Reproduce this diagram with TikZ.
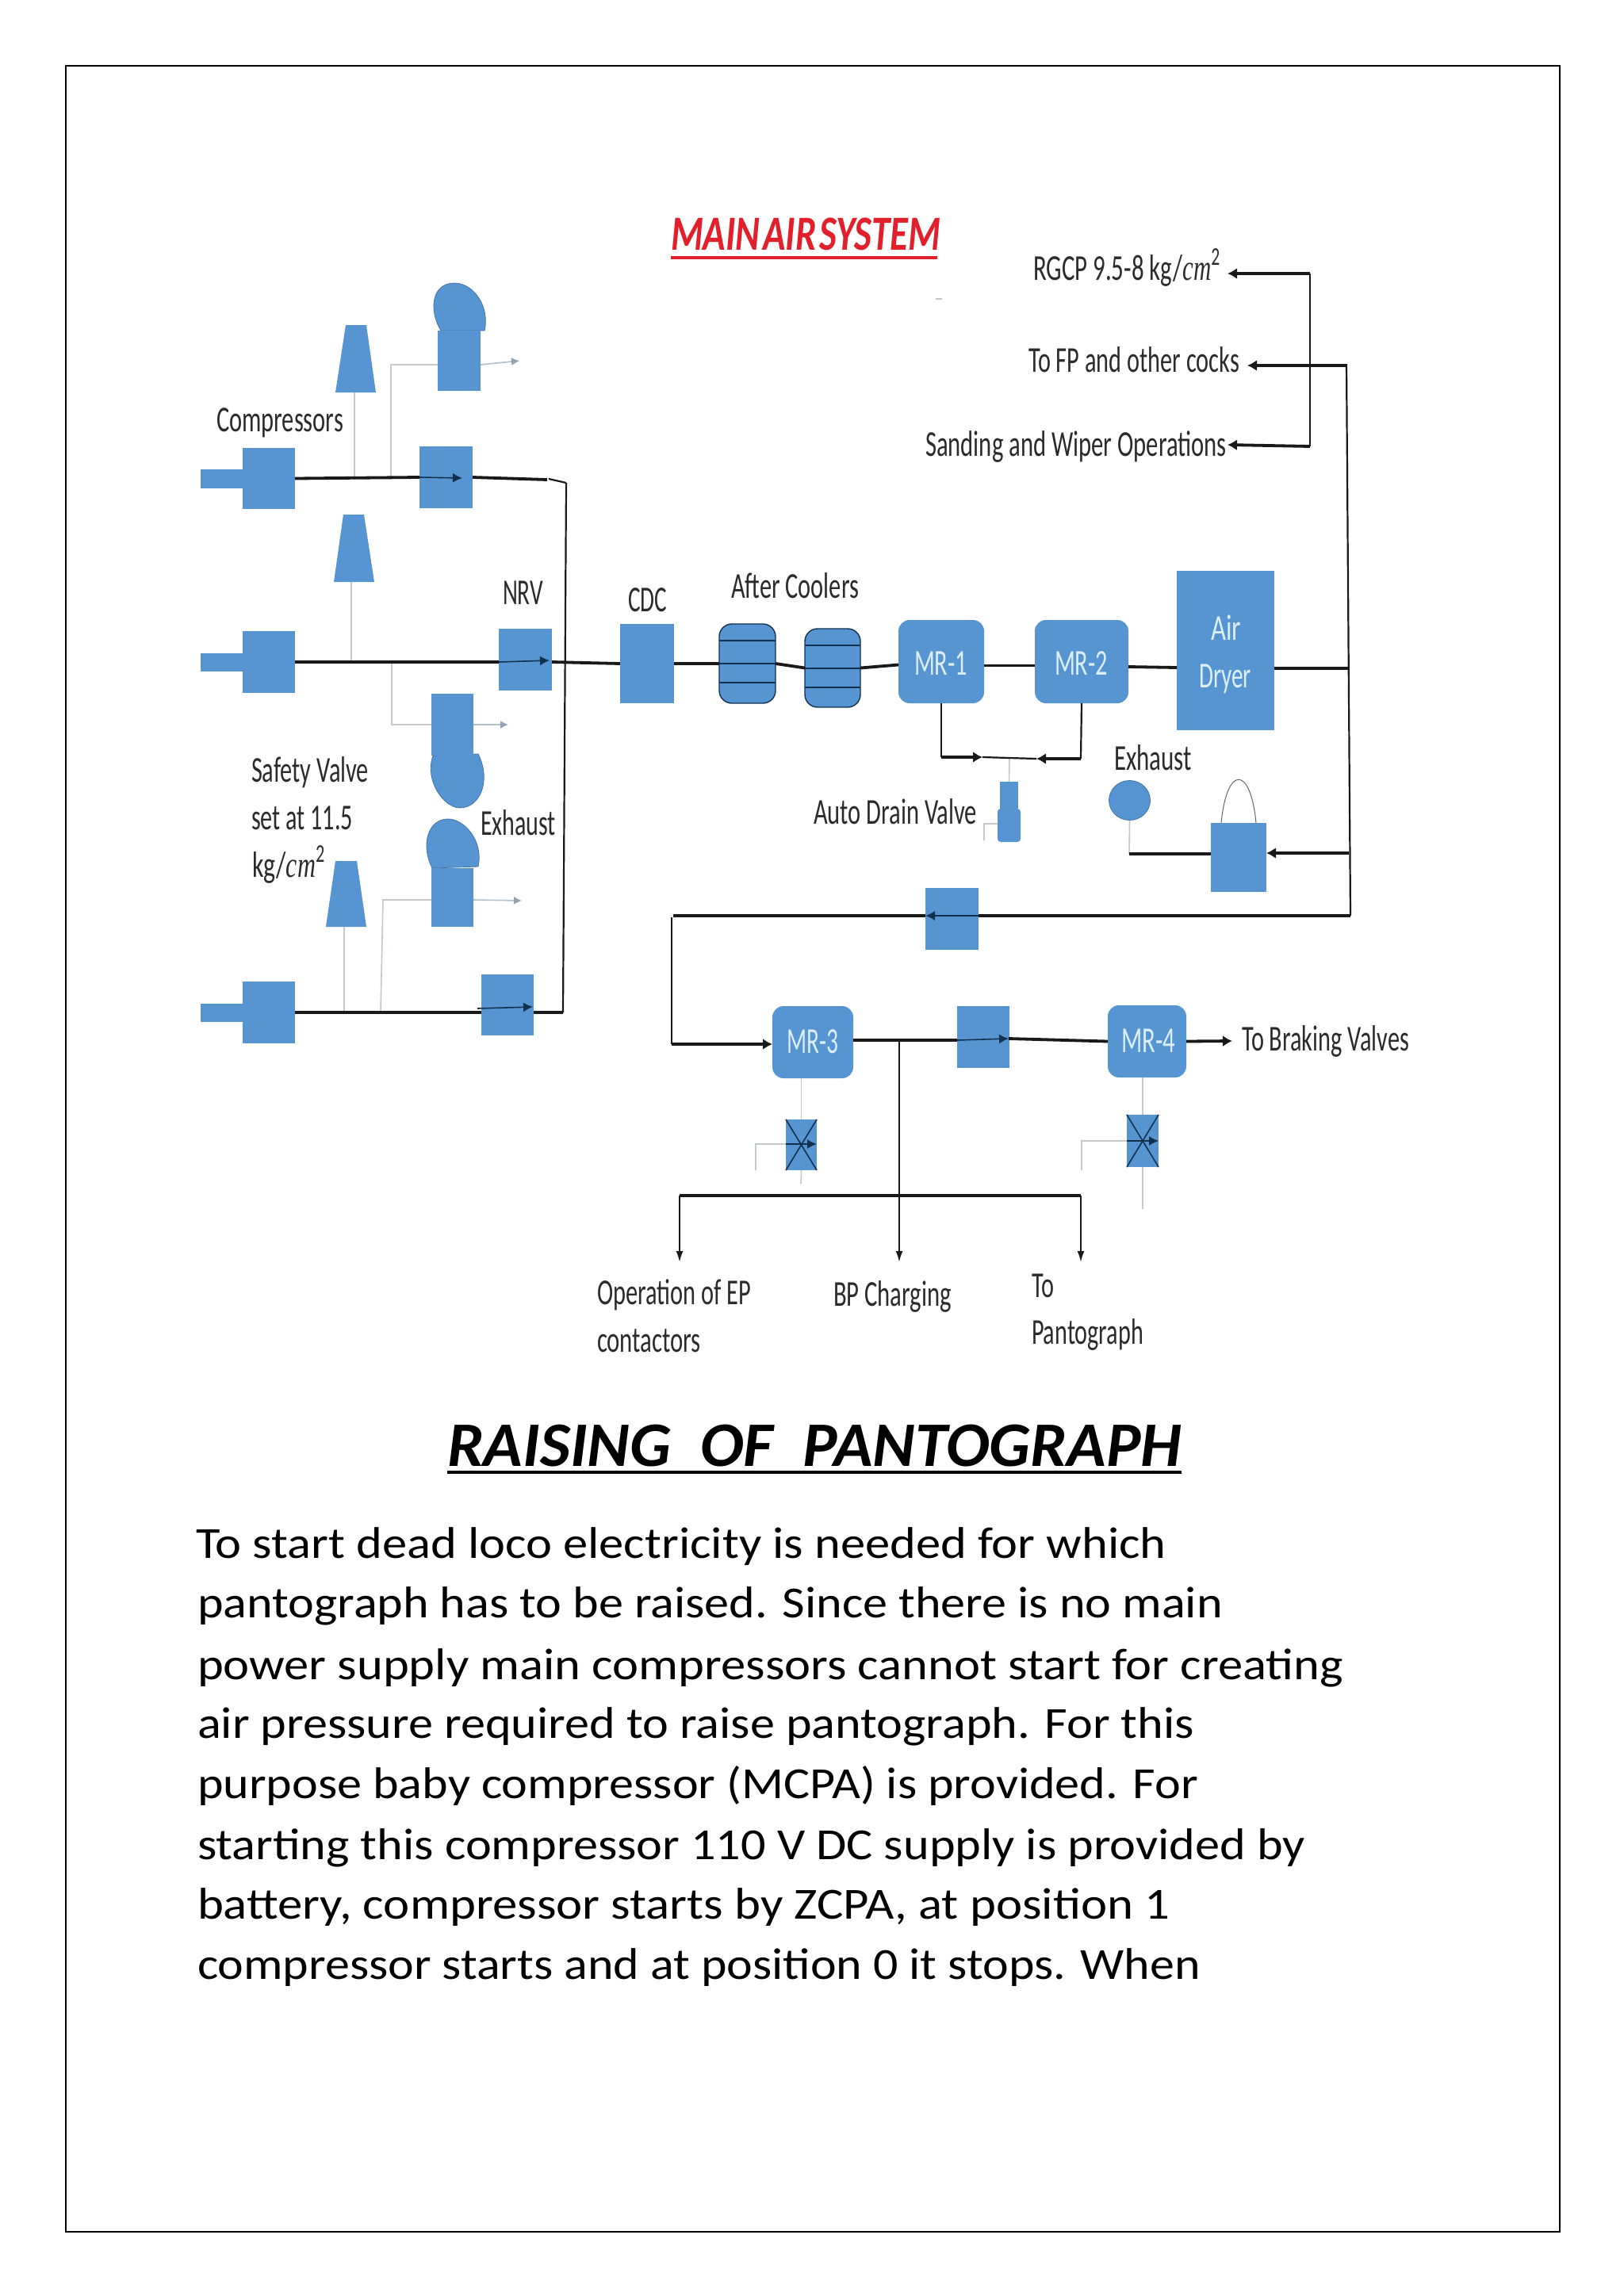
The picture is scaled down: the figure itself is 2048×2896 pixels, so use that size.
\documentclass[tikz,border=0pt]{standalone}
\usepackage{fontspec}
\usepackage{graphicx}
\setmainfont{Carlito}
\newfontfamily\mathf{Liberation Serif}
\usetikzlibrary{arrows.meta,fit,shapes.geometric}
\newcommand\ft[2]{\resizebox{\dimexpr #1pt/2\relax}{\height}{#2}}
\newcommand\cmm{{\mathf\itshape cm}\textsuperscript{2}}
\definecolor{bluef}{HTML}{5795D2}
\definecolor{blueb}{HTML}{3F74A8}
\definecolor{navy}{HTML}{12304F}
\definecolor{glin}{HTML}{C4C8CC}
\definecolor{garr}{HTML}{8FA3B5}
\definecolor{labc}{HTML}{2B2B2B}
\definecolor{mrtx}{HTML}{DCEEFB}
\definecolor{ttlred}{HTML}{E2202C}
\tikzset{
  bx/.style={rectangle,fill=bluef,inner sep=0pt,outer sep=0pt},
  mrbx/.style={bx,rounded corners=7pt},
  cool/.style={bx,draw=navy,line width=.7pt,rounded corners=8pt},
  lab/.style={anchor=base west,inner sep=0pt,outer sep=0pt,text=labc,font=\fontsize{23}{27}\selectfont},
  mrlab/.style={lab,text=mrtx,font=\fontsize{23}{27}\selectfont},
  body/.style={anchor=base west,inner sep=0pt,outer sep=0pt,text=black,font=\fontsize{28}{33}\selectfont},
  hv/.style={draw=black!90,line width=1.9pt},
  vt/.style={draw=black!90,line width=1.1pt},
  grayl/.style={draw=glin,line width=.8pt},
  inarrow/.style={draw=navy,line width=.8pt,-{Latex[length=6pt,width=6pt]}},
  hvtip/.style={hv,-{Latex[length=6pt,width=7pt]}},
  vttip/.style={vt,-{Latex[length=7pt,width=4.5pt]}},
  gtip/.style={draw=garr!70,line width=.8pt,-{Latex[length=5pt,width=5pt,color=garr]}},
  shp/.style={fill=bluef,draw=blueb,line width=.4pt}
}
\begin{document}
\begin{tikzpicture}[x=.5pt,y=-.5pt]
\useasboundingbox (0,0) rectangle (2048,2896);
\fill[white] (0,0) rectangle (2048,2896);
\draw[black,line width=1.4pt] (83,83) rectangle (1967,2815);
% --- boxes
\node[bx,fit={(253,592)(310,616)}] (t1) {};
\node[bx,fit={(306,565)(372,642)}] (c1) {};
\node[bx,fit={(529,563)(596,641)}] (v1) {};
\node[bx,fit={(253,824)(310,847)}] (t2) {};
\node[bx,fit={(306,796)(372,874)}] (c2) {};
\node[bx,fit={(629,793)(696,871)}] (v2) {};
\node[bx,fit={(253,1266)(310,1289)}] (t3) {};
\node[bx,fit={(306,1238)(372,1316)}] (c3) {};
\node[bx,fit={(607,1229)(673,1306)}] (v3) {};
% exhaust cylinders and trapezoids
\fill[bluef] (436,410) -- (462,410) -- (474,495) -- (423,495) -- cycle;
\coordinate (tr1) at (447,495);
\fill[bluef] (433,649) -- (459,649) -- (472,734) -- (421,734) -- cycle;
\coordinate (tr2) at (443,734);
\fill[bluef] (423,1086) -- (450,1086) -- (462,1169) -- (411,1169) -- cycle;
\coordinate (tr3) at (434,1169);
\draw[shp] (556,417) .. controls (540,390) and (545,357) .. (573,357) .. controls (596,357) and (618,385) .. (611,417) -- cycle;
\node[bx,fit={(552,417)(606,493)}] (e1) {};
\draw[shp] (546,953) .. controls (535,985) and (560,1019) .. (580,1019) .. controls (605,1019) and (620,985) .. (603,951) -- cycle;
\node[bx,fit={(544,875)(597,953)}] (e2) {};
\draw[shp] (545,1095) .. controls (530,1065) and (540,1033) .. (565,1033) .. controls (585,1033) and (610,1060) .. (603,1093) -- cycle;
\node[bx,fit={(544,1095)(597,1169)}] (e3) {};
% main line
\node[bx,fit={(782,787)(850,887)}] (cdc) {};
\node[cool,fit={(907,787)(978,887)}] (ac1) {};
\node[cool,fit={(1015,793)(1085,892)}] (ac2) {};
\node[mrbx,fit={(1133,782)(1241,887)}] (mr1) {};
\node[mrbx,fit={(1305,782)(1423,887)}] (mr2) {};
\node[bx,fit={(1484,720)(1607,921)}] (dry) {};
\node[bx,fit={(1261,986)(1284,1022)}] (dr1) {};
\node[bx,rounded corners=2pt,fit={(1258,1020)(1287,1062)}] (dr2) {};
\node[ellipse,fill=bluef,draw=blueb,line width=.4pt,inner sep=0pt,minimum width=26pt,minimum height=25pt] (ex) at (1424.5,1009.5) {};
\node[bx,fit={(1527,1038)(1597,1125)}] (dv) {};
\node[bx,fit={(1167,1120)(1234,1198)}] (ret) {};
\node[mrbx,fit={(974,1269)(1076,1360)}] (mr3) {};
\node[bx,fit={(1207,1269)(1273,1347)}] (mid) {};
\node[mrbx,fit={(1397,1268)(1496,1359)}] (mr4) {};
\node[bx,fit={(991,1412)(1030,1476)}] (x1) {};
\node[bx,fit={(1421,1406)(1461,1472)}] (x2) {};
% cooler inner lines
\draw[navy,line width=.8pt] (ac1.west |- 0,808) -- (ac1.east |- 0,808) (ac1.west |- 0,861) -- (ac1.east |- 0,861);
\draw[navy,line width=.8pt] (ac2.west |- 0,814) -- (ac2.east |- 0,814) (ac2.west |- 0,843) -- (ac2.east |- 0,843) (ac2.west |- 0,867) -- (ac2.east |- 0,867);
\draw[navy,line width=1pt] (ac1.west) -- (ac1.east);
% coordinates
\coordinate (j1a) at (447,605);
\coordinate (j1b) at (493,605);
\coordinate (j1c) at (493,460);
\coordinate (j2a) at (443,835);
\coordinate (j2b) at (494,835);
\coordinate (j2c) at (494,914);
\coordinate (j3a) at (434,1277);
\coordinate (j3b) at (480,1277);
\coordinate (j3c) at (483,1135);
\coordinate (ga1) at (655,455);
\coordinate (ga2) at (641,914);
\coordinate (ga3) at (658,1136);
\coordinate (bt1) at (690,605);
\coordinate (bt2) at (692,604);
\coordinate (bt3) at (714,609);
\coordinate (bb) at (710,1277);
\coordinate (rt) at (1698,459);
\coordinate (rm) at (1700,843);
\coordinate (rd) at (1701,1076);
\coordinate (rb) at (1703,1155);
\coordinate (lc1) at (849,1155);
\coordinate (lc2) at (847,1157);
\coordinate (lc3) at (847,1317);
\coordinate (gt) at (1652,345);
\coordinate (gb) at (1652,563);
\coordinate (tr) at (1548,345);
\coordinate (tf) at (1573,461);
\coordinate (ts) at (1548,561);
\coordinate (fp) at (1697,461);
\coordinate (d1) at (1187,955);
\coordinate (d2) at (1239,955);
\coordinate (d3) at (1307,957);
\coordinate (d4) at (1363,957);
\coordinate (d5) at (1273,956);
\coordinate (ejx) at (1424,1077);
\coordinate (brk) at (1554,1313);
\coordinate (jm) at (1134,1312);
\coordinate (mtip) at (1272,1310);
\coordinate (bl) at (857,1508);
\coordinate (br) at (1363,1508);
\coordinate (al) at (857,1592);
\coordinate (am) at (1134,1592);
\coordinate (ar) at (1363,1592);
\coordinate (gx1) at (953,1443);
\coordinate (gx1b) at (953,1476);
\coordinate (gx2) at (1364,1439);
\coordinate (gx2b) at (1364,1476);
\coordinate (xe1) at (1010,1493);
\coordinate (xe2) at (1441,1525);
\coordinate (dg1) at (1258,1039);
\coordinate (dg2) at (1241,1039);
\coordinate (dg3) at (1241,1060);
% gray piping
\draw[grayl] (tr1) -- (j1a);
\draw[grayl] (j1b) -- (j1c) -- (j1c -| e1.west);
\draw[gtip] (j1c -| e1.east) -- (ga1);
\draw[grayl] (tr2) -- (j2a);
\draw[grayl] (j2b) -- (j2c) -- (e2.west |- j2c);
\draw[gtip] (e2.east |- j2c) -- (ga2);
\draw[grayl] (tr3) -- (j3a);
\draw[grayl] (j3b) -- (j3c) -- (e3.west |- j3c);
\draw[gtip] (e3.east |- j3c) -- (ga3);
\draw[grayl] (d5) -- (dr1.north);
\draw[grayl] (dg1) -- (dg2) -- (dg3);
\draw[grayl] (ex.south) -- (ejx);
\draw[grayl] (x1.north) -- (x1.north |- mr3.south);
\draw[grayl] (x1.south) -- (xe1);
\draw[grayl] (x2.north) -- (x2.north |- mr4.south);
\draw[grayl] (x2.south) -- (xe2);
\draw[grayl] (gx1b) -- (gx1) -- (gx1 -| x1.west);
\draw[grayl] (gx2b) -- (gx2) -- (gx2 -| x2.west);
\draw[black!60,line width=.5pt] (1540,1038) .. controls (1547,965) and (1577,965) .. (1584,1038);
\draw[glin,line width=.7pt] (1180,377) -- (1188,377);
% black lines: compressor lines
\draw[hv] (c1.east) -- (v1.west);
\draw[hv] (v1.east) -- (bt1);
\draw[inarrow] (v1.west) -- (583,603);
\draw[vt] (bt2) -- (bt3);
\draw[vt] (bt3) -- (bb);
\draw[hv] (c2.east) -- (c2.east -| v2.west);
\draw[inarrow] (c2.east -| v2.west) -- (693,833);
\draw[hv] (c3.east) -- (c3.east -| v3.west);
\draw[inarrow] (602,1272) -- (672,1270);
\draw[hv] (c3.east -| v3.east) -- (bb);
% main
\draw[hv] (c2.east -| v2.east) -- (cdc.west);
\draw[hv] (cdc.east) -- (ac1.west);
\draw[hv] (ac1.east) -- (ac2.west);
\draw[hv] (ac2.east) -- ([yshift=-2pt]mr1.west);
\draw[hv] ([yshift=-2.5pt]mr1.east) -- ([yshift=-2.5pt]mr2.west);
\draw[hv] ([yshift=-3.25pt]mr2.east) -- ([yshift=-10.75pt]dry.west);
\draw[hv] (rm -| dry.east) -- (rm);
\draw[vt] (rt) -- (rb);
\draw[hv] (rb) -- (rb -| ret.east);
\draw[inarrow] (rb -| ret.east) -- (rb -| ret.west);
\draw[hv] (rb -| ret.west) -- (lc1);
\draw[vt] (lc2) -- (lc3);
\draw[hvtip] (lc3) -- (lc3 -| mr3.west);
% top branches
\draw[hvtip] (gt) -- (tr);
\draw[vt] (gt) -- (gb);
\draw[hvtip] (gb) -- (ts);
\draw[hvtip] (fp) -- (tf);
% drain
\draw[vt] (mr1.south) -- (d1);
\draw[hvtip] (d1) -- (d2);
\draw[vt] (d2) -- (d3);
\draw[vt] (mr2.south) -- (d4);
\draw[hvtip] (d4) -- (d3);
% dryer bypass
\draw[hv] (ejx) -- (ejx -| dv.west);
\draw[hvtip] (rd) -- (rd -| dv.east);
% MR3 / MR4
\draw[hv] (jm -| mr3.east) -- (jm -| mid.west);
\draw[inarrow] (jm -| mid.west) -- (mtip);
\draw[hv] (mtip) -- (mr4.west);
\draw[hvtip] (mr4.east) -- (brk);
\draw[vttip] (jm) -- (am);
\draw[hv] (bl) -- (br);
\draw[vttip] (bl) -- (al);
\draw[vttip] (br) -- (ar);
% X valves
\draw[navy,line width=.8pt] (x1.north west) -- (x1.south east) (x1.north east) -- (x1.south west);
\draw[inarrow] (x1.west |- gx1) -- (x1.east |- gx1);
\draw[navy,line width=.8pt] (x2.north west) -- (x2.south east) (x2.north east) -- (x2.south west);
\draw[inarrow] (x2.west |- gx2) -- (x2.east |- gx2);
% labels
\node[lab,text=ttlred,font=\fontsize{31}{36}\bfseries\itshape\selectfont] (ttl) at (846,315) {\ft{340}{MAIN\hspace{.08em}AIR\hspace{.08em}SYSTEM}};
\draw[ttlred,line width=2pt] (846,325) -- (1182,325);
\node[lab] (lc) at (273,544) {\ft{160}{Compressors}};
\node[lab] (lnrv) at (634,762) {\ft{51}{NRV}};
\node[lab] (lcdc) at (792,771) {\ft{49}{CDC}};
\node[lab] (lac) at (922,754) {\ft{161}{After Coolers}};
\node[mrlab] (lm1) at (1153,851) {\ft{67}{MR-1}};
\node[mrlab] (lm2) at (1330,851) {\ft{67}{MR-2}};
\node[mrlab] (la1) at (1527,807) {\ft{38}{Air}};
\node[mrlab] (la2) at (1512,867) {\ft{66}{Dryer}};
\node[lab] (lrg) at (1303,353) {\ft{236}{RGCP 9.5-8 kg/\cmm}};
\node[lab] (lfp) at (1297,469) {\ft{266}{To FP and other cocks}};
\node[lab] (lsw) at (1167,575) {\ft{380}{Sanding and Wiper Operations}};
\node[lab] (lsv1) at (317,986) {\ft{148}{Safety Valve}};
\node[lab] (lsv2) at (317,1046) {\ft{128}{set at 11.5}};
\node[lab] (lsv3) at (318,1106) {\ft{92}{kg/\cmm}};
\node[lab] (lex1) at (606,1053) {\ft{95}{Exhaust}};
\node[lab] (lex2) at (1405,971) {\ft{98}{Exhaust}};
\node[lab] (ladv) at (1026,1039) {\ft{206}{Auto Drain Valve}};
\node[mrlab] (lm3) at (992,1328) {\ft{65}{MR-3}};
\node[mrlab] (lm4) at (1414,1327) {\ft{68}{MR-4}};
\node[lab] (lbr) at (1566,1325) {\ft{211}{To Braking Valves}};
\node[lab] (lop1) at (753,1645) {\ft{194}{Operation of EP}};
\node[lab] (lop2) at (753,1705) {\ft{131}{contactors}};
\node[lab] (lbp) at (1051,1647) {\ft{149}{BP Charging}};
\node[lab] (lto1) at (1301,1636) {\ft{28}{To}};
\node[lab] (lto2) at (1301,1695) {\ft{141}{Pantograph}};
% heading and text
\node[body,font=\fontsize{40}{48}\bfseries\itshape\selectfont] (hd) at (564,1849) {\ft{926}{RAISING\ \ OF\ \ PANTOGRAPH}};
\draw[black,line width=2pt] (564,1857) -- (1490,1857);
\node[body] (b1) at (247,1965) {\ft{1224}{To start dead loco electricity is needed for which}};
\node[body] (b2) at (249,2040) {\ft{1293}{pantograph has to be raised. Since there is no main}};
\node[body] (b3) at (249,2118) {\ft{1445}{power supply main compressors cannot start for creating}};
\node[body] (b4) at (249,2192) {\ft{1257}{air pressure required to raise pantograph. For this}};
\node[body] (b5) at (249,2268) {\ft{1262}{purpose baby compressor (MCPA) is provided. For}};
\node[body] (b6) at (249,2345) {\ft{1397}{starting this compressor 110 V DC supply is provided by}};
\node[body] (b7) at (249,2420) {\ft{1226}{battery, compressor starts by ZCPA, at position 1}};
\node[body] (b8) at (249,2496) {\ft{1265}{compressor starts and at position 0 it stops. When}};
\end{tikzpicture}
\end{document}
